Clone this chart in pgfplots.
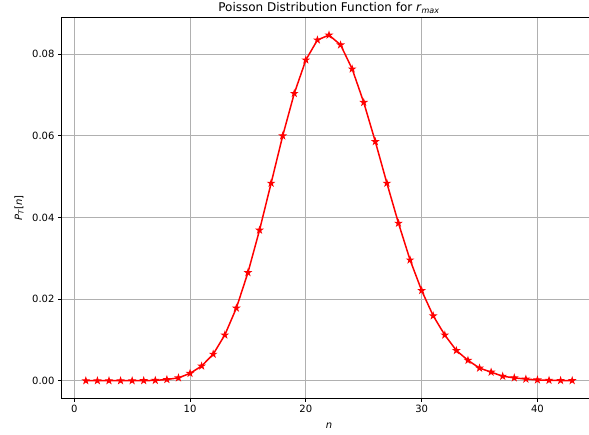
\documentclass[border=0pt]{standalone}
\usepackage{fontspec}
\setmainfont{DejaVu Sans}
\usepackage{pgfplots}
\pgfplotsset{compat=1.18}

% filled five-pointed star, like the usual plotting-library marker
\pgfdeclareplotmark{fstar}{%
  \pgfpathmoveto{\pgfpointpolar{90}{\pgfplotmarksize}}%
  \pgfpathlineto{\pgfpointpolar{126}{0.382\pgfplotmarksize}}%
  \pgfpathlineto{\pgfpointpolar{162}{\pgfplotmarksize}}%
  \pgfpathlineto{\pgfpointpolar{198}{0.382\pgfplotmarksize}}%
  \pgfpathlineto{\pgfpointpolar{234}{\pgfplotmarksize}}%
  \pgfpathlineto{\pgfpointpolar{270}{0.382\pgfplotmarksize}}%
  \pgfpathlineto{\pgfpointpolar{306}{\pgfplotmarksize}}%
  \pgfpathlineto{\pgfpointpolar{342}{0.382\pgfplotmarksize}}%
  \pgfpathlineto{\pgfpointpolar{18}{\pgfplotmarksize}}%
  \pgfpathlineto{\pgfpointpolar{54}{0.382\pgfplotmarksize}}%
  \pgfpathclose
  \pgfusepathqfillstroke}

\definecolor{gridgray}{HTML}{B0B0B0}

\pgfplotstableread{
n   p
1   0.0000
2   0.0000
3   0.0000
4   0.0000
5   0.0000
6   0.00002
7   0.00008
8   0.0003
9   0.0007
10  0.0018
11  0.0036
12  0.0065
13  0.0112
14  0.0178
15  0.0265
16  0.0369
17  0.0484
18  0.0600
19  0.0704
20  0.0786
21  0.0835
22  0.0847
23  0.0823
24  0.0764
25  0.0682
26  0.0586
27  0.0484
28  0.0386
29  0.0296
30  0.0221
31  0.0159
32  0.0112
33  0.0074
34  0.0050
35  0.0031
36  0.0021
37  0.0011
38  0.0007
39  0.0004
40  0.0002
41  0.0001
42  0.00005
43  0.00003
}\poissondata

\begin{document}
\begin{tikzpicture}
\useasboundingbox (0,0) rectangle (589pt,434pt);
\begin{axis}[
  at={(61.5pt,36pt)}, anchor=south west,
  scale only axis,
  width=535pt, height=380.2pt,
  xmin=-1.1, xmax=45.1,
  ymin=-0.004235, ymax=0.088935,
  xtick={0,10,20,30,40},
  ytick={0,0.02,0.04,0.06,0.08},
  yticklabel style={/pgf/number format/.cd, fixed, fixed zerofill, precision=2},
  scaled y ticks=false,
  /pgf/number format/assume math mode=true,
  tick label style={font=\fontsize{10}{12}\selectfont},
  tick align=outside,
  xtick pos=left, ytick pos=left,
  major tick length=3.5pt,
  tick style={black, line width=0.8pt},
  axis line style={black, line width=0.8pt},
  grid=major,
  major grid style={gridgray, line width=0.8pt},
  every axis title shift=0pt,
  title={Poisson Distribution Function for \textit{r}\textsubscript{\textit{max}}},
  title style={font=\fontsize{12}{14}\selectfont, at={(axis description cs:0.5,1)}, anchor=base, yshift=6.5pt},
  xlabel={\textit{n}},
  xlabel style={font=\fontsize{10}{12}\selectfont, at={(axis description cs:0.5,0)}, anchor=base, yshift=-30pt},
  ylabel={\textit{P}\textsubscript{\textit{T}}[\textit{n}]},
  ylabel style={font=\fontsize{10}{12}\selectfont, at={(axis description cs:-0.0738,0.5)}, anchor=base},
  clip=false,
]
\addplot[red, line width=1.5pt, mark=fstar, mark size=3pt,
  mark options={solid, fill=red, draw=red, line width=1pt}]
  table[x=n, y=p] {\poissondata};
\end{axis}
\end{tikzpicture}
\end{document}
